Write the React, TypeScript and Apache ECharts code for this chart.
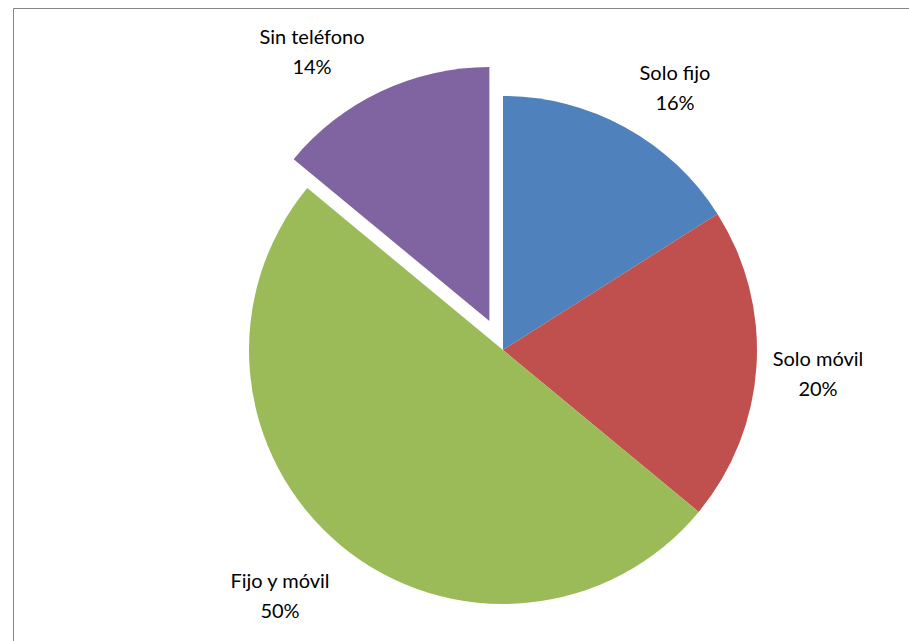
import React, { useEffect, useRef } from "react";
import * as echarts from "echarts";

const categories = ["Solo fijo", "Solo móvil", "Fijo y móvil", "Sin teléfono"];
const values = [16, 20, 50, 14];
const colors = ["#4F81BD", "#C0504D", "#9BBB59", "#8064A2"];
const explodedIndex = 3;
// label centre positions (layout only)
const labelCentres = [
  [675, 87],
  [818, 373],
  [280, 595],
  [312, 51],
];

export default function App() {
  const ref = useRef<HTMLDivElement>(null);
  useEffect(() => {
    if (!ref.current) return;
    const chart = echarts.init(ref.current, null, { renderer: "svg" });
    const cx = 503;
    const cy = 350;
    const radius = 254;
    const offset = 32;
    const total = values.reduce((a, b) => a + b, 0);
    const before = values.slice(0, explodedIndex).reduce((a, b) => a + b, 0);
    const midA = ((before + values[explodedIndex] / 2) / total) * Math.PI * 2;
    const shiftX = offset * Math.sin(midA);
    const shiftY = -offset * Math.cos(midA);

    const makeSeries = (exploded: boolean) => ({
      type: "pie",
      center: exploded ? [cx + shiftX, cy + shiftY] : [cx, cy],
      radius: [0, radius],
      startAngle: 90,
      clockwise: true,
      silent: true,
      avoidLabelOverlap: false,
      itemStyle: { borderWidth: 0 },
      emphasis: { disabled: true },
      labelLine: { show: false },
      label: {
        show: true,
        position: "outside",
        formatter: (p: any) => `${p.name}\n${p.value}%`,
        fontFamily: "Lato, 'Open Sans', sans-serif",
        fontSize: 20,
        lineHeight: 30,
        color: "#000000",
        align: "center",
      },
      labelLayout: (params: any) => {
        const c = labelCentres[params.dataIndex];
        return { x: c[0], y: c[1], align: "center", verticalAlign: "middle" };
      },
      data: categories.map((name, i) => {
        const visible = exploded ? i === explodedIndex : i !== explodedIndex;
        return {
          name,
          value: values[i],
          itemStyle: { color: visible ? colors[i] : "rgba(0,0,0,0)" },
          label: { show: visible },
        };
      }),
    });

    chart.setOption({
      animation: false,
      backgroundColor: "#ffffff",
      graphic: [
        {
          type: "rect",
          shape: { x: 13.5, y: 8.5, width: 1000, height: 1000 },
          style: { fill: "none", stroke: "#868686", lineWidth: 1 },
          silent: true,
        },
      ],
      series: [makeSeries(false), makeSeries(true)],
    });
    return () => chart.dispose();
  }, []);
  return (
    <div
      ref={ref}
      style={{ position: "fixed", left: 0, top: 0, width: 909, height: 641 }}
    />
  );
}
